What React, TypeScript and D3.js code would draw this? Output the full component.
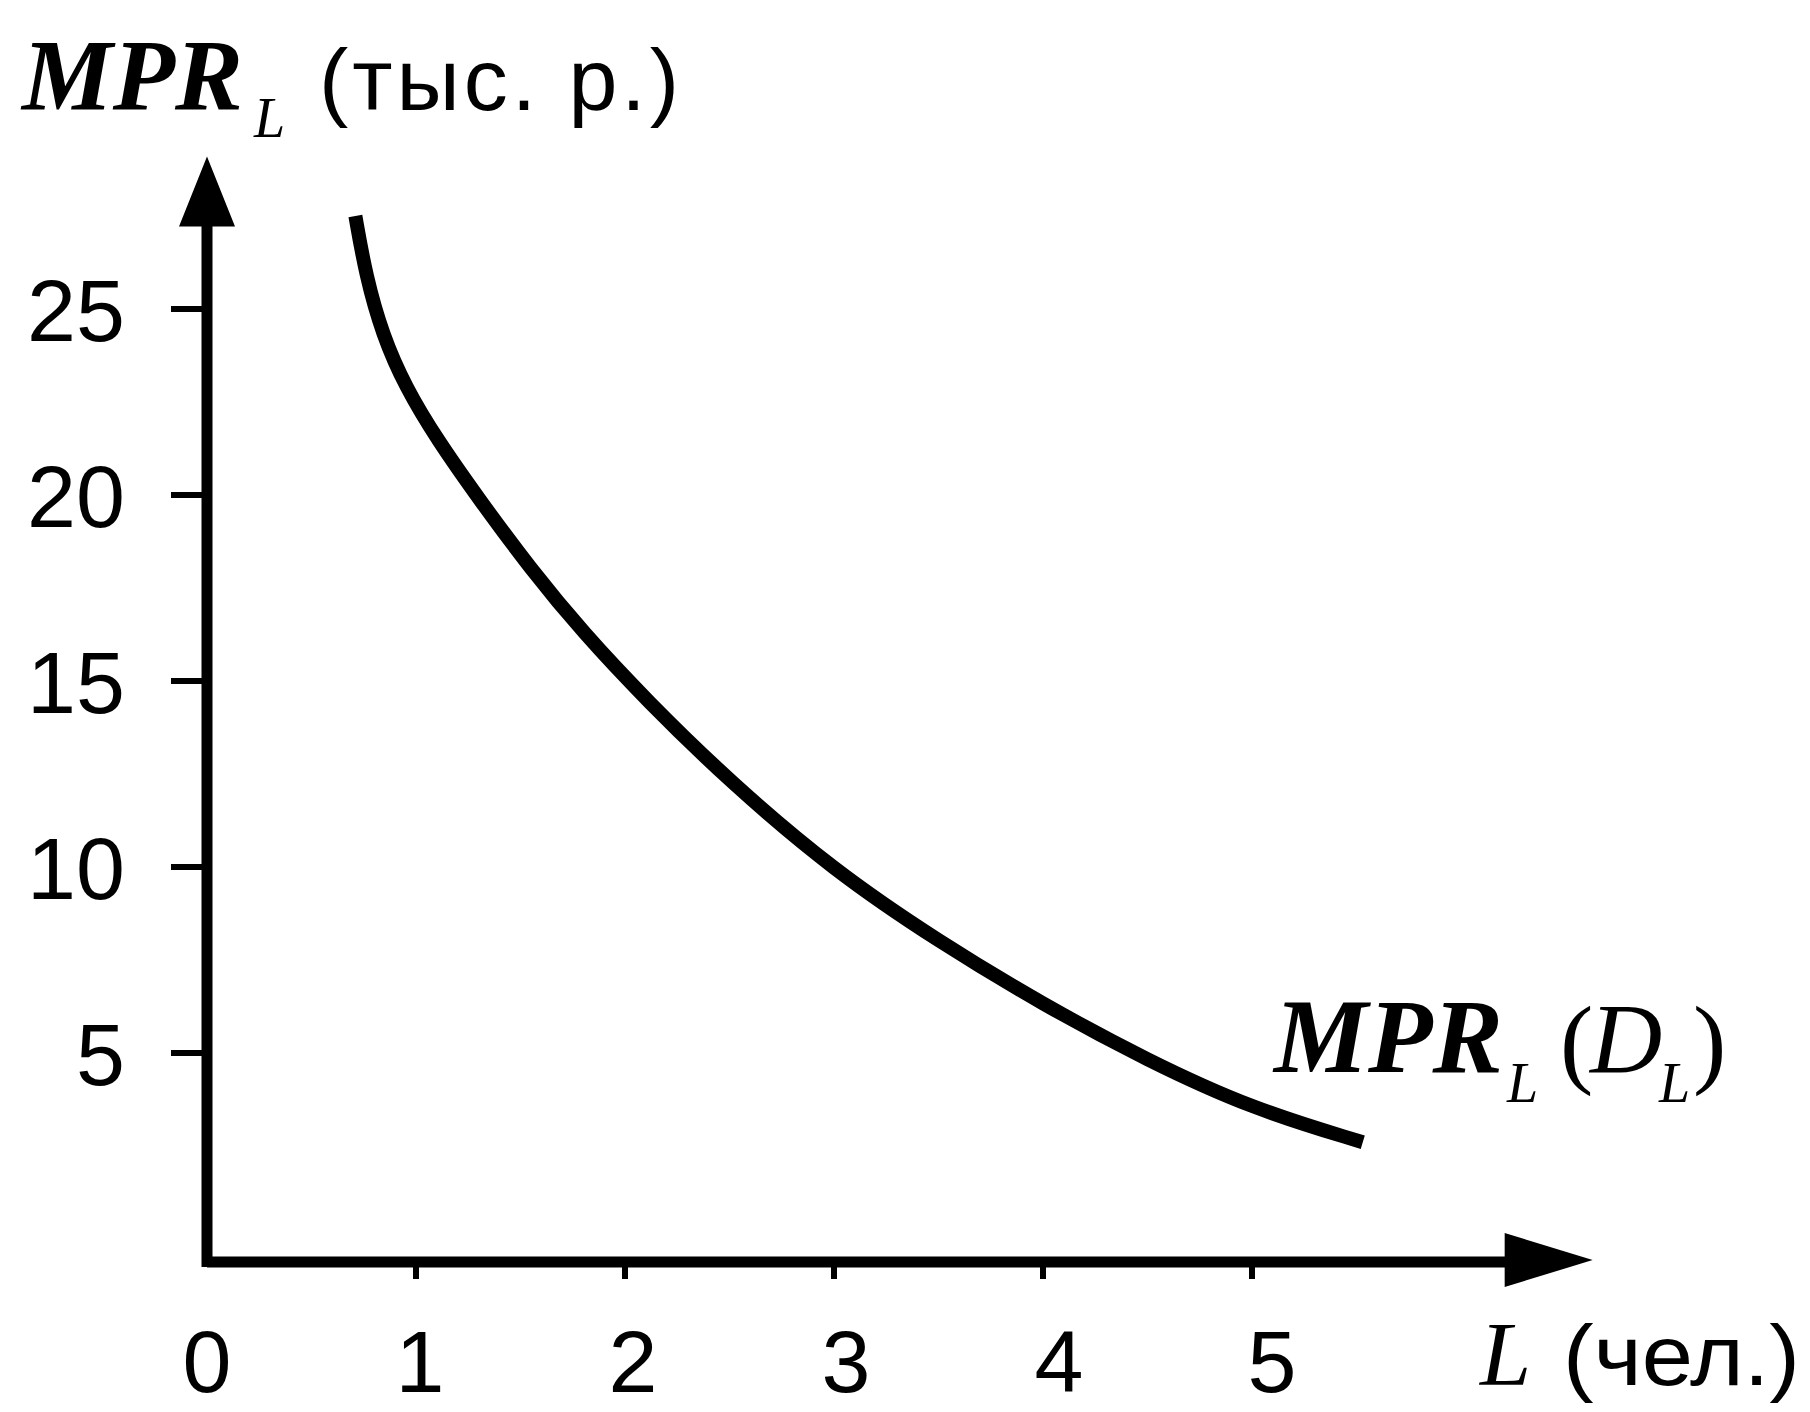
import * as d3 from "d3";

// L (чел.) and MPR_L (тыс. р.)
const curveL = [0.71, 0.76, 0.84, 0.95, 1.1, 1.3, 1.55, 1.8, 2.1, 2.5, 3.0, 3.5, 4.0, 4.5, 5.0, 5.53];
const curveMPR = [27.5, 25.9, 24.3, 22.9, 21.5, 19.9, 18.0, 16.3, 14.5, 12.3, 9.9, 8.0, 6.3, 4.8, 3.5, 2.6];

const xTicks = [0, 1, 2, 3, 4, 5];
const yTicks = [5, 10, 15, 20, 25];

const W = 1810;
const H = 1412;
const SERIF = "'Liberation Serif', 'Times New Roman', serif";
const SANS = "'Liberation Sans', Arial, sans-serif";

export default function App() {
  // hand-drawn axes: origin sits a bit below the value 0
  const yOrigin = -0.62;
  const x = d3.scaleLinear().domain([0, 5]).range([207, 1252]);
  const y = d3.scaleLinear().domain([yOrigin, 25]).range([1262, 309]);

  const x0 = x(0);
  const y0 = y(yOrigin);
  const xEnd = x(6.63);
  const yEnd = y(29.1);

  const pts: [number, number][] = curveL.map((l, i) => [l, curveMPR[i]]);
  const line = d3
    .line<[number, number]>()
    .x((d) => x(d[0]))
    .y((d) => y(d[1]))
    .curve(d3.curveBasis);

  return (
    <svg
      width={W}
      height={H}
      style={{ position: "absolute", left: 0, top: 0, background: "#fff" }}
    >
      <rect x={0} y={0} width={W} height={H} fill="#fff" />

      {/* axes */}
      <line x1={x0} y1={y0} x2={xEnd - 60} y2={y0} stroke="#000" strokeWidth={11} />
      <line x1={x0} y1={y0 + 5} x2={x0} y2={yEnd + 50} stroke="#000" strokeWidth={11} />
      <path
        d={`M${xEnd},${y0 - 2} L${xEnd - 88},${y0 - 29} L${xEnd - 88},${y0 + 25} Z`}
        fill="#000"
      />
      <path
        d={`M${x0},${yEnd} L${x0 - 28},${yEnd + 70} L${x0 + 28},${yEnd + 70} Z`}
        fill="#000"
      />

      {/* y ticks */}
      {yTicks.map((t) => (
        <g key={"y" + t}>
          <line x1={x0 - 36} x2={x0} y1={y(t)} y2={y(t)} stroke="#000" strokeWidth={6} />
          <text
            x={125}
            y={y(t)}
            dy="0.36em"
            textAnchor="end"
            fontFamily={SANS}
            fontSize={88}
            fill="#000"
          >
            {t}
          </text>
        </g>
      ))}

      {/* x ticks */}
      {xTicks.map((t) => (
        <g key={"x" + t}>
          {t > 0 && (
            <line x1={x(t)} x2={x(t)} y1={y0} y2={y0 + 17} stroke="#000" strokeWidth={6} />
          )}
          <text
            x={x(t) + t * 4}
            y={1392}
            textAnchor="middle"
            fontFamily={SANS}
            fontSize={88}
            fill="#000"
          >
            {t}
          </text>
        </g>
      ))}

      {/* demand curve */}
      <path d={line(pts) ?? ""} fill="none" stroke="#000" strokeWidth={14} />

      {/* y axis title */}
      <text x={22} y={110} fontFamily={SERIF} fontStyle="italic" fontWeight="bold" fontSize={102}
        textLength={221} lengthAdjust="spacingAndGlyphs">MPR</text>
      <text x={254} y={137} fontFamily={SERIF} fontStyle="italic" fontSize={56}>L</text>
      <text x={319} y={110} fontFamily={SANS} fontSize={88} textLength={360} lengthAdjust="spacing">
        (тыс.  р.)
      </text>

      {/* curve label */}
      <text x={1274} y={1072} fontFamily={SERIF} fontStyle="italic" fontWeight="bold" fontSize={105}
        textLength={229} lengthAdjust="spacingAndGlyphs">MPR</text>
      <text x={1507} y={1102} fontFamily={SERIF} fontStyle="italic" fontSize={56}>L</text>
      <text x={1560} y={1075} fontFamily={SERIF} fontSize={100}>(</text>
      <text x={1590} y={1072} fontFamily={SERIF} fontStyle="italic" fontSize={100}>D</text>
      <text x={1659} y={1102} fontFamily={SERIF} fontStyle="italic" fontSize={56}>L</text>
      <text x={1693} y={1075} fontFamily={SERIF} fontSize={100}>)</text>

      {/* x axis title */}
      <text x={1480} y={1385} fontFamily={SERIF} fontStyle="italic" fontSize={92}>L</text>
      <text x={1563} y={1385} fontFamily={SANS} fontSize={86} textLength={237} lengthAdjust="spacingAndGlyphs">
        (чел.)
      </text>
    </svg>
  );
}
